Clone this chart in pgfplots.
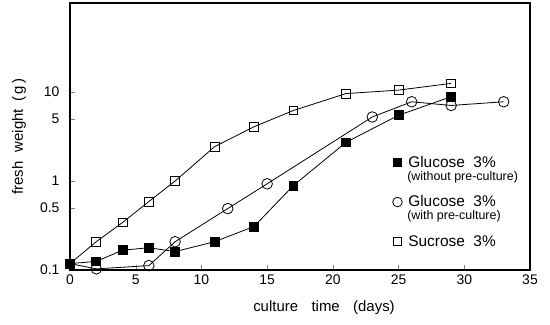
\documentclass[border=0pt]{standalone}
\usepackage{fontspec}
\setmainfont{Liberation Sans}
\usepackage{pgfplots}
\pgfplotsset{compat=1.18}
\newcommand{\sub}[1]{\raisebox{7.5bp}[\dimexpr\height+3.5bp\relax][\dimexpr\depth-3.5bp\relax]{\fontsize{12.5}{13}\selectfont\hspace{-1bp}#1}}
\begin{document}
\begin{tikzpicture}
\begin{axis}[
  scale only axis, width=460bp, height=267bp,
  xmin=0, xmax=35, ymode=log, ymin=0.1, ymax=100,
  xtick={0,5,...,35},
  ytick={0.1,0.5,1,5,10}, yticklabels={0.1,0.5,1,5,10},
  minor ytick={},
  tick align=inside, xtick pos=left, ytick pos=left,
  major tick length=5bp,
  /pgf/number format/assume math mode=true,
  ticklabel style={font=\fontsize{14}{16}\selectfont},
  xticklabel style={yshift=-1bp},
  yticklabel style={xshift=-7bp},
  xlabel style={at={(axis description cs:0.5,0)}, anchor=center, xshift=24bp, yshift=-38bp, font=\fontsize{15}{17}\selectfont},
  ylabel style={at={(axis description cs:-0.1109,0.5)}, anchor=center, font=\fontsize{15}{17}\selectfont},
  xlabel={culture\hspace{0.9em}time\hspace{0.9em}(days)},
  ylabel={fresh\hspace{0.6em}weight\hspace{0.5em}(\,g\,)},
  axis line style={line width=1.1pt},
  every axis plot/.append style={black, line width=0.8pt},
  legend image code/.code={\draw[#1] plot coordinates {(0.1cm,0cm)};},
  legend style={at={(0.701,0.435)}, anchor=north west, draw=none, fill=none,
    inner sep=0pt, row sep=2.5bp, column sep=4bp, cells={anchor=west},
    font=\fontsize{15.5}{17}\selectfont},
]
\addplot[mark=square, mark size=4.4bp, mark options={fill=white}, forget plot] coordinates {
(0,0.118)(2,0.208)(4,0.342)(6,0.588)(8,1.0)(11,2.43)(14,4.07)(17,6.2)(21,9.6)(25,10.5)(29,12.5)};
\addplot[mark=o, mark size=5.3bp, mark options={fill=white}, mark indices={2,3,4,5,6,7,8,9,10}, forget plot] coordinates {
(0,0.118)(2,0.103)(6,0.112)(8,0.208)(12,0.49)(15,0.93)(23,5.24)(26,7.77)(29,7.06)(33,7.77)};
\addplot[mark=square*, mark size=4.4bp, forget plot] coordinates {
(0,0.118)(2,0.125)(4,0.167)(6,0.178)(8,0.161)(11,0.208)(14,0.308)(17,0.89)(21,2.72)(25,5.48)(29,8.85)};
\addlegendimage{only marks, black, mark=square*, mark size=3.6bp}
\addlegendentry{Glucose\ \ 3\%}
\addlegendimage{empty legend}
\addlegendentry{\sub{(without pre-culture)}}
\addlegendimage{only marks, black, line width=0.8pt, mark=o, mark size=4.8bp}
\addlegendentry{Glucose\ \ 3\%}
\addlegendimage{empty legend}
\addlegendentry{\sub{(with pre-culture)}}
\addlegendimage{only marks, black, line width=0.8pt, mark=square, mark size=3.8bp}
\addlegendentry{Sucrose\ \ 3\%}
\end{axis}
\pgfresetboundingbox
\path ([shift={(-70bp,-55bp)}]current axis.south west) rectangle ([shift={(20bp,3bp)}]current axis.north east);
\end{tikzpicture}
\end{document}
